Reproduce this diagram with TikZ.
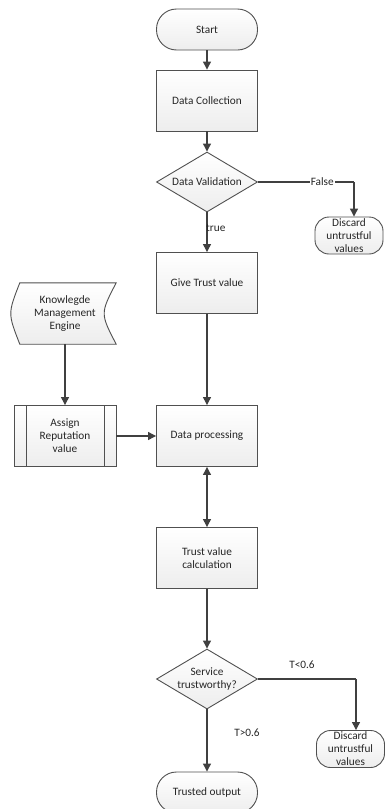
\documentclass[tikz,border=0pt]{standalone}
\usepackage{fontspec}
\setmainfont{Carlito}
\usetikzlibrary{shapes.geometric,arrows.meta,backgrounds}
\definecolor{linec}{HTML}{404040}
\definecolor{boxc}{HTML}{505050}
\definecolor{txt}{HTML}{262626}
\newcommand\dfont{\fontsize{11.3}{13}\selectfont}
\begin{document}
\begin{tikzpicture}[x=1pt,y=-1pt,
  line/.style={draw=linec, line width=1.2pt},
  arr/.style={line, -{Triangle[length=8pt,width=8pt]}},
  dbl/.style={line, {Triangle[length=8pt,width=8pt]}-{Triangle[length=8pt,width=8pt]}},
  shade/.style={top color=white, bottom color=gray!14},
  outline/.style={draw=boxc, line width=0.9pt},
  plain/.style={inner sep=0pt, align=center, font=\dfont, text=txt},
  box/.style={plain, outline, shade, minimum width=101pt, minimum height=61pt},
  term/.style={plain, outline, shade, rounded corners=20pt, minimum width=101pt, minimum height=41pt},
  disc/.style={plain, outline, shade, rounded corners=14pt, minimum width=68pt, minimum height=37pt},
  dia/.style={plain, outline, shade, diamond, aspect=1.68, minimum width=101pt, minimum height=60pt},
  lbl/.style={plain, fill=white, inner sep=1pt},
]
\useasboundingbox (0,0) rectangle (385,809);
\clip (0,0) rectangle (385,809);

% central column
\node[term] (start) at (207,29.5) {Start};
\node[box] (dc) at (207,100.5) {Data Collection};
\node[dia] (dv) at (207,182) {Data Validation};
\node[box] (gt) at (207,283) {Give Trust value};
\node[box] (dp) at (207,436) {Data processing};
\node[box] (tc) at (207,558) {Trust value\\calculation};
\node[dia] (st) at (207,679) {};
\node[plain] (sttext) at (st) {Service\\trustworthy?};
\node[term] (to) at (207,792.5) {Trusted output};

% left column
\node[plain, minimum width=102pt, minimum height=61pt] (kme) at (65,313.5) {Knowlegde\\Management\\Engine};
\begin{scope}[on background layer]
  \draw[outline, shade] ([xshift=6pt]kme.north west) -- (kme.north east)
    .. controls ([xshift=-16pt]kme.east) .. (kme.south east)
    -- ([xshift=6pt]kme.south west)
    .. controls ([xshift=-6pt]kme.west) .. ([xshift=6pt]kme.north west) -- cycle;
\end{scope}
\node[box, minimum width=102pt] (ar) at (65,436) {Assign\\Reputation\\value};
\draw[outline] ([xshift=13pt]ar.north west) -- ([xshift=13pt]ar.south west);
\draw[outline] ([xshift=-12pt]ar.north east) -- ([xshift=-12pt]ar.south east);

% right column
\node[disc] (d1) at (349,235.5) {Discard\\untrustful\\values};
\node[disc] (d2) at (350.5,749) {Discard\\untrustful\\values};

% connectors
\draw[arr] (start) -- (dc);
\draw[arr] (dc) -- (dv);
\coordinate (f1) at (354,182);
\draw[line] (dv.east) -- node[lbl, pos=0.67] (lf) {False} (f1);
\draw[arr] (f1) -- (f1 |- d1.north);
\draw[arr] (dv) -- (gt);
\node[plain, anchor=west] (lt) at (206,228) {true};
\draw[arr] (gt) -- (dp);
\draw[arr] (kme) -- (ar);
\draw[arr] (ar) -- (dp);
\draw[dbl] (dp) -- (tc);
\draw[arr] (tc) -- (st);
\coordinate (f2) at (356,679);
\draw[line] (st.east) -- (f2);
\node[plain] (llt) at (302,665) {T<0.6};
\draw[arr] (f2) -- (f2 |- d2.north);
\draw[arr] (st) -- (to);
\node[plain] (lgt) at (247,733) {T>0.6};
\end{tikzpicture}
\end{document}
